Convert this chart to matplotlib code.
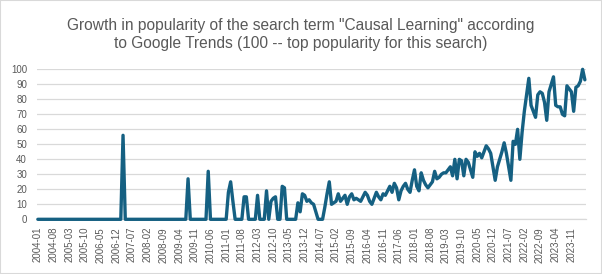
import matplotlib
matplotlib.use("Agg")
import matplotlib.pyplot as plt
import pandas as pd
from matplotlib.patches import Rectangle

# Monthly Google Trends values (2004-01 ... 2024-05)
y2004 = [0, 0, 0, 0, 0, 0, 0, 0, 0, 0, 0, 0]
y2005 = [0, 0, 0, 0, 0, 0, 0, 0, 0, 0, 0, 0]
y2006 = [0, 0, 0, 0, 0, 0, 0, 0, 0, 0, 0, 0]
y2007 = [0, 0, 56, 0, 0, 0, 0, 0, 0, 0, 0, 0]
y2008 = [0, 0, 0, 0, 0, 0, 0, 0, 0, 0, 0, 0]
y2009 = [0, 0, 0, 0, 0, 0, 0, 27, 0, 0, 0, 0]
y2010 = [0, 0, 0, 0, 32, 0, 0, 0, 0, 0, 0, 0]
y2011 = [0, 18, 25, 12, 0, 0, 0, 0, 15, 15, 0, 0]
y2012 = [0, 0, 16, 0, 0, 0, 19, 0, 12, 14, 15, 0]
y2013 = [0, 22, 21, 0, 0, 0, 0, 0, 11, 5, 17, 16]
y2014 = [12, 13, 11, 10, 5, 0, 0, 0, 8, 17, 25, 10]
y2015 = [11, 12, 17, 12, 14, 16, 10, 15, 17, 13, 14, 13]
y2016 = [12, 15, 18, 16, 12, 10, 14, 18, 15, 13, 17, 16]
y2017 = [19, 22, 18, 24, 21, 13, 19, 22, 24, 20, 18, 26]
y2018 = [33, 22, 19, 31, 26, 23, 21, 23, 25, 32, 27, 28]
y2019 = [30, 31, 31, 33, 35, 29, 40, 27, 40, 39, 29, 40]
y2020 = [38, 33, 28, 45, 42, 44, 41, 45, 49, 47, 44, 35]
y2021 = [26, 35, 40, 45, 51, 44, 35, 26, 52, 50, 60, 40]
y2022 = [58, 72, 83, 94, 76, 72, 68, 83, 85, 84, 78, 66]
y2023 = [85, 90, 95, 76, 75, 75, 70, 69, 89, 87, 85, 72]
y2024 = [88, 89, 92, 100, 93]

popularity = (y2004 + y2005 + y2006 + y2007 + y2008 + y2009 + y2010 + y2011
              + y2012 + y2013 + y2014 + y2015 + y2016 + y2017 + y2018
              + y2019 + y2020 + y2021 + y2022 + y2023 + y2024)
start_month = "2004-01"
label_step = 7
y_ticks = list(range(0, 101, 10))
title = ('Growth in popularity of the search term "Causal Learning" according\n'
         'to Google Trends (100 -- top popularity for this search)')

n = len(popularity)
months = list(pd.period_range(start_month, periods=n, freq="M").strftime("%Y-%m"))

plt.rcParams['font.family'] = ['Liberation Sans', 'DejaVu Sans']
text_col = '#595959'
grid_col = '#D9D9D9'

fig = plt.figure(figsize=(6.02, 2.74), dpi=100)
ax = fig.add_axes([0.061, 0.1996, 0.9124, 0.5474])

ax.plot(range(n), popularity, color='#156082', lw=2.4,
        solid_joinstyle='round', solid_capstyle='round', clip_on=False, zorder=3)

ax.set_xlim(-0.5, n - 0.5)
ax.set_ylim(0, 100)
ax.set_yticks(y_ticks)
ax.set_yticklabels([str(v) for v in y_ticks])
ticks = list(range(0, n, label_step))
ax.set_xticks(ticks)
ax.set_xticklabels([months[i] for i in ticks], rotation=90)

ax.grid(axis='y', color=grid_col, lw=0.9, zorder=0)
ax.set_axisbelow(True)
for s in ['top', 'right', 'left']:
    ax.spines[s].set_visible(False)
ax.spines['bottom'].set_color(grid_col)
ax.spines['bottom'].set_linewidth(0.9)
ax.tick_params(axis='y', length=0, pad=7, labelsize=7, labelcolor=text_col)
ax.tick_params(axis='x', length=0, pad=5.5, labelsize=7, labelcolor=text_col)

fig.text(0.5, 0.935, title, ha='center', va='top', fontsize=11.2,
         color=text_col, linespacing=1.3)

fig.patches.append(Rectangle((0, 0), 1, 1, transform=fig.transFigure,
                             fill=False, edgecolor=grid_col, lw=1.5))

fig.savefig('out.png', dpi=100)
